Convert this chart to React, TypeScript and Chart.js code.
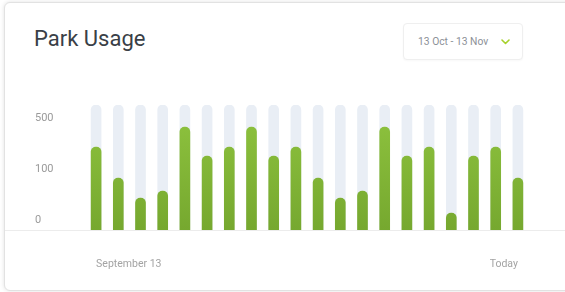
import { useEffect, useRef } from "react";
import { Chart, registerables } from "chart.js";

Chart.register(...registerables);

const categories = [
  "Day 1", "Day 2", "Day 3", "Day 4", "Day 5", "Day 6", "Day 7", "Day 8", "Day 9", "Day 10",
  "Day 11", "Day 12", "Day 13", "Day 14", "Day 15", "Day 16", "Day 17", "Day 18", "Day 19", "Day 20",
];
const usageValues = [83, 52, 32, 39, 103, 74, 83, 103, 74, 83, 52, 32, 39, 103, 74, 83, 17, 74, 83, 52];
const capacityValues = [125, 125, 125, 125, 125, 125, 125, 125, 125, 125, 125, 125, 125, 125, 125, 125, 125, 125, 125, 125];
const yTickValues = [10, 61, 112];
const yTickLabels = ["0", "100", "500"];
const xTickLabels = ["September 13", "Today"];
const yMax = 125;

export default function App() {
  const canvasRef = useRef<HTMLCanvasElement | null>(null);

  useEffect(() => {
    const canvas = canvasRef.current;
    if (!canvas) return;
    const chart = new Chart(canvas, {
      type: "bar",
      data: {
        labels: categories,
        datasets: [
          {
            label: "Usage",
            data: usageValues,
            order: 0,
            grouped: false,
            barThickness: 10,
            borderRadius: 5,
            backgroundColor: (ctx: any) => {
              const { chart } = ctx;
              const area = chart.chartArea;
              if (!area) return "#82b536";
              const g = chart.ctx.createLinearGradient(0, area.top, 0, area.bottom);
              g.addColorStop(0, "#8fc43f");
              g.addColorStop(1, "#76a82f");
              return g;
            },
          },
          {
            label: "Capacity",
            data: capacityValues,
            order: 1,
            grouped: false,
            barThickness: 10,
            borderRadius: 5,
            backgroundColor: "#e9eef5",
          },
        ],
      },
      options: {
        animation: false,
        responsive: false,
        layout: { padding: { left: 35, right: 36, top: 105, bottom: 22 } },
        plugins: { legend: { display: false }, tooltip: { enabled: false } },
        scales: {
          x: {
            grid: { display: false },
            border: { display: false },
            afterFit: (s: any) => {
              s.height = 40;
            },
            ticks: {
              autoSkip: false,
              maxRotation: 0,
              align: "inner",
              padding: 20,
              color: "#a3a3a3",
              font: { family: "Roboto", size: 10.5 },
              callback: (_v: any, i: number, ticks: any[]) =>
                i === 0 ? xTickLabels[0] : i === ticks.length - 1 ? xTickLabels[1] : "",
            },
          },
          y: {
            min: 0,
            max: yMax,
            grid: { display: false },
            border: { display: false },
            afterBuildTicks: (s: any) => {
              s.ticks = yTickValues.map((v) => ({ value: v }));
            },
            afterFit: (s: any) => {
              s.width = 50;
            },
            ticks: {
              crossAlign: "far",
              color: "#9a9a9a",
              font: { family: "Roboto", size: 11 },
              callback: (_v: any, i: number) => yTickLabels[i],
            },
          },
        },
      },
    });
    return () => chart.destroy();
  }, []);

  return (
    <div
      style={{
        position: "fixed",
        left: 0,
        top: 0,
        width: 565,
        height: 292,
        overflow: "hidden",
        background: "#ffffff",
        fontFamily: "Roboto, sans-serif",
      }}
    >
      <div
        style={{
          position: "absolute",
          left: 4,
          top: 2,
          width: 620,
          height: 287,
          border: "1px solid #e2e2e2",
          borderRadius: 6,
          boxShadow: "0 0 4px rgba(0,0,0,0.12)",
          background: "#fff",
        }}
      />
      <div
        style={{
          position: "absolute",
          left: 5,
          top: 230,
          width: 560,
          height: 1,
          background: "#ececec",
        }}
      />
      <div
        style={{
          position: "absolute",
          left: 34,
          top: 25,
          fontSize: 22,
          lineHeight: "28px",
          color: "#3a3f47",
          whiteSpace: "nowrap",
        }}
      >
        Park Usage
      </div>
      <div
        style={{
          position: "absolute",
          left: 403,
          top: 23,
          width: 118,
          height: 35,
          border: "1px solid #efefef",
          borderRadius: 4,
          boxShadow: "0 1px 2px rgba(0,0,0,0.03)",
          background: "#fff",
        }}
      >
        <span
          style={{
            position: "absolute",
            left: 14,
            top: 11,
            fontSize: 10.3,
            lineHeight: "13px",
            color: "#8c9097",
            whiteSpace: "nowrap",
          }}
        >
          13 Oct - 13 Nov
        </span>
        <svg
          style={{ position: "absolute", left: 97, top: 15 }}
          width="9"
          height="6"
          viewBox="0 0 9 6"
        >
          <polyline points="1,1 4.5,4.5 8,1" fill="none" stroke="#a6d12b" strokeWidth="1.6" strokeLinecap="round" strokeLinejoin="round" />
        </svg>
      </div>
      <canvas
        ref={canvasRef}
        width={565}
        height={292}
        style={{ position: "absolute", left: 0, top: 0, display: "block" }}
      />
    </div>
  );
}
